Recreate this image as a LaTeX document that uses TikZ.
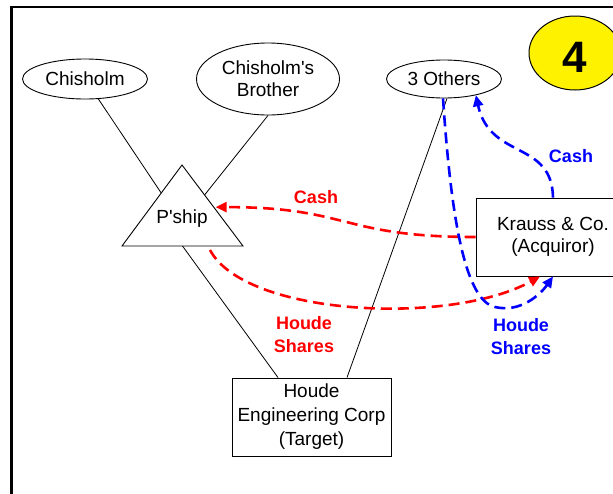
\documentclass[tikz,border=0pt]{standalone}
\usepackage{fontspec}
\setmainfont{Liberation Sans}
\usetikzlibrary{shapes.geometric,arrows.meta,calc}
\begin{document}
\begin{tikzpicture}[x=1pt,y=-1pt,
  txt/.style={font=\fontsize{19}{22}\selectfont, align=center, inner sep=0pt},
  ell/.style={ellipse, draw, line width=0.9pt, txt},
  box/.style={rectangle, draw, line width=0.9pt, txt},
  link/.style={line width=0.8pt},
  flow/.style={line width=2.6pt, dash pattern=on 11pt off 6pt, -{Triangle[length=11pt,width=10pt]}},
  lab/.style={font=\bfseries\fontsize{18}{23}\selectfont, align=center, inner sep=0pt},
]
\useasboundingbox (0,0) rectangle (613,493);
\clip (0,0) rectangle (613,493);
\fill[white] (0,0) rectangle (613,493);
\draw[line width=2.5pt] (11.5,7) rectangle (700,600);

% nodes
\node[ell, minimum width=125pt, minimum height=40pt] (chis) at (85,79) {Chisholm};
\node[ell, minimum width=143pt, minimum height=72pt] (bro) at (268,79) {Chisholm\textquotesingle s\\Brother};
\node[ell, minimum width=115pt, minimum height=38pt] (oth) at (444,79) {3 Others};
\node[ellipse, draw, fill=yellow, line width=1pt, minimum width=92pt, minimum height=74pt, inner sep=0pt] (four) at (575,53) {};
\node[font=\bfseries\fontsize{44}{44}\selectfont, anchor=base, inner sep=0pt] (fourtxt) at (575,72) {4};

\coordinate (tA) at (182,165);
\coordinate (tL) at (122,246);
\coordinate (tR) at (243,246);
\draw[line width=0.9pt] (tA) -- (tL) -- (tR) -- cycle;
\node[txt] (pship) at (182,219) {P\textquotesingle ship};

\node[box, minimum width=159pt, minimum height=78pt, font=\fontsize{19}{24}\selectfont] (houde) at (311.5,417) {Houde\\Engineering Corp\\(Target)};
\node[box, minimum width=154pt, minimum height=78pt] (krauss) at (553,237) {Krauss \& Co.\\(Acquiror)};

% ownership links
\draw[link] (chis) -- ($(tA)!0.346!(tL)$);
\draw[link] (bro.south) -- ($(tA)!0.37!(tR)$);
\draw[link] ($(tL)!0.5!(tR)$) -- ([xshift=-33.5pt]houde.north);
\draw[link] ([xshift=3pt]oth.south) -- ([xshift=35.5pt]houde.north);

% flows
\draw[flow, red] (krauss.west) .. controls (340,237) and (350,207) .. ($(tA)!0.52!(tR)+(2,0)$);
\draw[flow, red] ($(tR)+(-33,4)$) .. controls (245,316) and (450,326) .. ([xshift=-13pt]krauss.south);
\draw[flow, blue] ([xshift=-1pt]oth.south) .. controls (450,200) and (462,300) .. (495,307) .. controls (520,313) and (540,295) .. (krauss.south);
\draw[flow, blue] (krauss.north) .. controls (552,140) and (490,160) .. (oth.-27);

% labels
\node[lab, red, anchor=base] (rcash) at (316,203) {Cash};
\node[lab, blue, anchor=base] (bcash) at (571,162) {Cash};
\node[lab, red] (rshares) at (304,335) {Houde\\Shares};
\node[lab, blue] (bshares) at (521,337) {Houde\\Shares};
\end{tikzpicture}
\end{document}
